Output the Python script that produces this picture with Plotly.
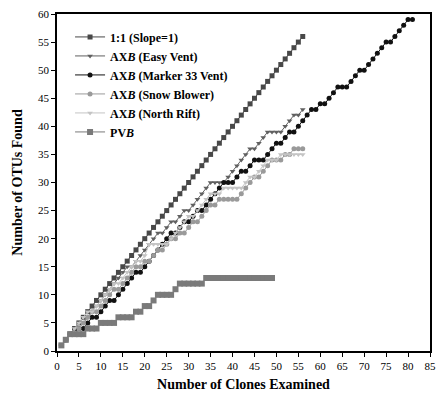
import plotly.graph_objects as go

# ---- data ----
x_one = list(range(1, 57))
y_one = list(range(1, 57))

x_easy = list(range(1, 57))
y_easy = [1, 2, 3, 4, 5, 5, 6, 7, 8, 9, 10, 11, 12, 13, 14, 15, 15, 16, 17, 18,
          19, 20, 21, 21, 22, 23, 23, 24, 25, 25, 26, 27, 28, 29, 30, 30, 30, 30, 31, 32,
          33, 34, 35, 36, 36, 37, 38, 39, 39, 39, 39, 40, 41, 42, 42, 43]

x_m33 = list(range(1, 82))
y_m33 = [1, 2, 3, 3, 4, 4, 5, 6, 6, 7, 8, 9, 9, 10, 11, 12, 13, 14, 14, 15,
         16, 17, 18, 19, 20, 21, 21, 22, 23, 23, 24, 25, 25, 26, 27, 28, 29, 30, 30, 30,
         31, 32, 32, 33, 34, 34, 34, 35, 36, 37, 37, 38, 39, 39, 40, 41, 42, 43, 43, 44,
         44, 45, 46, 47, 47, 47, 48, 49, 50, 50, 51, 52, 53, 54, 55, 55, 56, 57, 58, 59, 59]

x_snow = list(range(1, 57))
y_snow = [1, 2, 3, 3, 4, 5, 6, 7, 7, 8, 9, 10, 11, 11, 12, 13, 14, 15, 15, 16,
          16, 17, 18, 18, 19, 20, 20, 21, 21, 22, 23, 23, 24, 25, 26, 26, 27, 27, 27, 27,
          27, 28, 29, 30, 31, 31, 32, 33, 34, 34, 34, 35, 35, 36, 36, 36]

x_north = list(range(1, 57))
y_north = [1, 2, 3, 4, 5, 6, 7, 7, 8, 9, 10, 11, 12, 12, 13, 14, 15, 16, 16, 17,
           19, 19, 19, 19, 19, 20, 21, 22, 23, 24, 24, 25, 26, 27, 28, 28, 28, 29, 29, 29,
           29, 29, 30, 31, 31, 32, 33, 34, 34, 34, 35, 35, 35, 35, 35, 35]

x_pvb = list(range(1, 50))
y_pvb = [1, 2, 3, 3, 3, 3, 4, 4, 4, 5, 5, 5, 5, 6, 6, 6, 6, 7, 7, 8,
         8, 9, 10, 10, 10, 10, 11, 12, 12, 12, 12, 12, 12, 13, 13, 13, 13, 13, 13, 13,
         13, 13, 13, 13, 13, 13, 13, 13, 13]

x_ticks = list(range(0, 86, 5))
y_ticks = list(range(0, 61, 5))

series = [
    ("<b>1:1 (Slope=1)</b>", x_one, y_one, "#484848", "square", 5),
    ("<b>AX<i>B</i> (Easy Vent)</b>", x_easy, y_easy, "#606060", "triangle-down", 5),
    ("<b>AX<i>B</i> (Marker 33 Vent)</b>", x_m33, y_m33, "#111111", "circle", 5),
    ("<b>AX<i>B</i> (Snow Blower)</b>", x_snow, y_snow, "#9a9a9a", "circle", 5),
    ("<b>AX<i>B</i> (North Rift)</b>", x_north, y_north, "#c4c4c4", "triangle-down", 5),
    ("<b>PV<i>B</i></b>", x_pvb, y_pvb, "#7a7a7a", "square", 6),
]

fig = go.Figure()
for name, xs, ys, col, sym, sz in series:
    fig.add_trace(go.Scatter(
        x=xs, y=ys, name=name, mode="lines+markers",
        line=dict(color=col, width=1),
        marker=dict(color=col, symbol=sym, size=sz),
    ))

font_family = "Liberation Serif"
fig.update_layout(
    width=439, height=403,
    margin=dict(l=57, r=9, t=14, b=52),
    paper_bgcolor="white", plot_bgcolor="white",
    font=dict(family=font_family, size=11, color="black"),
    showlegend=True,
    legend=dict(x=0.035, y=0.975, xanchor="left", yanchor="top",
                bgcolor="rgba(0,0,0,0)", font=dict(size=12, family=font_family),
                tracegroupgap=0, itemwidth=30),
    xaxis=dict(range=[0, 85], tickvals=x_ticks, ticktext=[str(v) for v in x_ticks],
               showgrid=False, zeroline=False, showline=True, linecolor="black",
               linewidth=1.5, mirror=True, ticks="outside", ticklen=4, tickcolor="black",
               automargin=False,
               title=dict(text="<b>Number of Clones Examined</b>", font=dict(size=14),
                          standoff=8)),
    yaxis=dict(range=[0, 60], tickvals=y_ticks, ticktext=[str(v) for v in y_ticks],
               showgrid=False, zeroline=False, showline=True, linecolor="black",
               linewidth=1.5, mirror=True, ticks="outside", ticklen=4, tickcolor="black",
               automargin=False,
               title=dict(text="<b>Number of OTUs Found</b>", font=dict(size=14),
                          standoff=12)),
)
fig.write_html("out.html", config={"displayModeBar": False},
               post_script="document.body.style.margin='0';document.body.style.padding='0';")
